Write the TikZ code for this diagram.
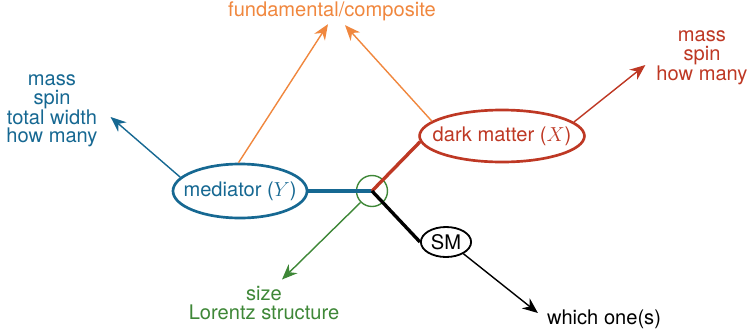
\documentclass[tikz,border=0pt]{standalone}
\usepackage{fontspec}
\setmainfont{TeX Gyre Heros}
\usetikzlibrary{shapes.geometric,arrows.meta}

\definecolor{medblue}{RGB}{22,104,146}
\definecolor{dmred}{RGB}{190,56,36}
\definecolor{fcorange}{RGB}{240,135,62}
\definecolor{szgreen}{RGB}{62,135,55}

\begin{document}
\begin{tikzpicture}[x=0.025cm,y=-0.025cm,font=\fontsize{14.3}{13}\selectfont,
		>={Stealth[length=11pt,width=9pt]},
		blob/.style={draw,ellipse,line width=1.9pt,inner ysep=0pt},
		lbl/.style={align=center,inner sep=2pt},
		leg/.style={line width=2.4pt},
		hint/.style={draw,->,line width=1pt}]
	\useasboundingbox (0,0) rectangle (752,330);

	% particles
	\node[blob,medblue,inner xsep=-6.8pt,minimum width=3.35cm,minimum height=1.35cm] (Y) at (240,191) {mediator (\(Y\))};
	\node[blob,dmred,inner xsep=-7.8pt,minimum width=4.1cm,minimum height=1.3cm] (X) at (502,136) {dark matter (\(X\))};
	\node[blob,line width=1.3pt,inner xsep=1.9pt,minimum width=1.25cm,minimum height=0.75cm] (SM) at (446,242) {SM};

	\coordinate (v) at (372,191);
	\node[draw=szgreen,circle,line width=1pt,minimum size=0.775cm,inner sep=0pt] (vc) at (372,191) {};

	% questions
	\node[lbl,medblue] (Yq) at (52,111) {mass\\spin\\total width\\how many};
	\node[lbl,dmred] (Xq) at (702,58) {mass\\spin\\how many};
	\node[lbl,fcorange] (fc) at (332,11.5) {fundamental/composite};
	\node[lbl,szgreen] (sz) at (264,303) {size\\Lorentz structure};
	\node[lbl] (wo) at (604,319) {which one(s)};

	\path[draw,leg,medblue] (Y.east) -- (v);
	\path[draw,leg,dmred] (v) -- (X.184);
	\path[draw,leg] (v) -- (SM.west);

	\path[hint,medblue] (Y.167) -- ([shift={(10,6)}]Yq.east);
	\path[hint,fcorange] (Y.93) -- ([shift={(-4,0)}]fc.south);
	\path[hint,fcorange] (X.168) -- ([shift={(13,1)}]fc.south);
	\path[hint,dmred] (X.11) -- ([shift={(-8,7)}]Xq.west);
	\path[hint,szgreen] (vc.225) -- ([shift={(18,-4)}]sz.north);
	\path[hint] (SM.-34) -- ([shift={(-6,-6)}]wo.west);
\end{tikzpicture}
\end{document}
